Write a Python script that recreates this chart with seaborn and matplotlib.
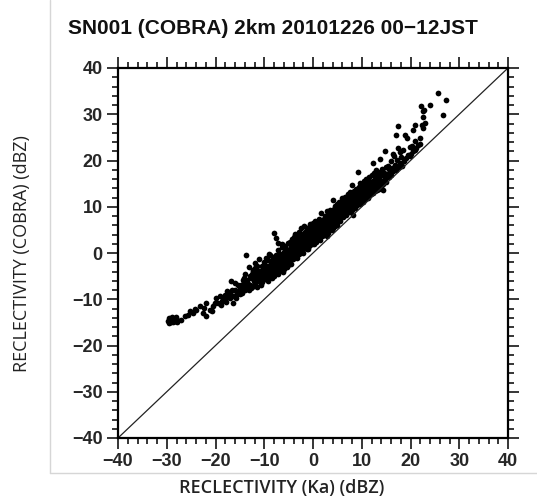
import matplotlib
matplotlib.use("Agg")
import matplotlib.pyplot as plt
from matplotlib.lines import Line2D
from matplotlib.ticker import MultipleLocator
import seaborn as sns
import pandas as pd

# ---- data: (Ka reflectivity, COBRA reflectivity) in dBZ ----
tail_low = [(-29.8,-14.6),(-29.6,-14.0),(-29.5,-15.1),(-29.3,-14.4),(-29.1,-14.9),(-29.0,-13.9),
            (-28.8,-14.5),(-28.7,-15.0),(-28.5,-14.2),(-28.3,-14.7),(-28.2,-13.8),(-28.0,-14.4),
            (-27.8,-15.0),(-27.0,-14.4),(-26.3,-13.7),(-25.6,-13.3),(-25.3,-12.6),(-24.6,-13.0),
            (-23.9,-12.3),(-23.2,-11.5),(-22.6,-13.0),(-21.9,-10.8),(-21.9,-13.7),(-21.2,-12.3),
            (-20.5,-11.5),(-20.2,-10.9),(-20.8,-12.6),(-24.2,-12.2),(-22.3,-11.9)]
seg_m20 = [(-19.5,-10.8),(-19.1,-9.4),(-18.6,-10.4),(-18.1,-9.0),(-17.8,-10.5),(-17.4,-9.6),
           (-17.1,-9.7),(-16.8,-6.0),(-16.7,-7.9),(-16.4,-10.9),(-16.1,-6.5),(-15.8,-9.0),
           (-15.7,-9.8),(-15.4,-8.4),(-15.0,-7.6),(-15.0,-8.9),(-19.8,-9.8),(-18.9,-11.2),
           (-17.6,-8.3),(-16.0,-8.0),(-15.3,-6.9),(-16.5,-9.2),(-18.3,-10.0),(-17.0,-8.6)]
seg_m15 = [(-14.8,-7.0),(-14.6,-8.6),(-14.4,-5.8),(-14.4,-7.8),(-14.2,-6.4),(-14.0,-8.0),
           (-13.9,-4.6),(-13.7,-0.4),(-13.7,-7.1),(-13.5,-5.9),(-13.3,-6.6),(-13.2,-8.1),
           (-13.0,-4.9),(-12.9,-6.9),(-12.7,-5.5),(-12.5,-7.3),(-12.4,-3.6),(-12.2,-6.0),
           (-12.0,-2.2),(-12.0,-5.0),(-11.8,-6.8),(-11.6,-4.2),(-11.5,-7.4),(-11.3,-5.4),
           (-11.1,-1.4),(-11.0,-3.8),(-10.8,-6.1),(-10.7,-4.7),(-10.5,-2.9),(-10.4,-6.3),
           (-10.2,-3.3),(-10.1,-5.2),(-10.0,-4.0),(-14.1,-5.3),(-13.6,-6.3),(-12.8,-7.6),
           (-12.3,-3.9),(-11.9,-6.4),(-11.4,-2.8),(-10.9,-5.6),(-10.6,-7.0),(-10.3,-3.6),
           (-14.9,-8.2),(-13.1,-3.0),(-11.7,-4.5)]
seg_m10 = [(-9.9,-2.6),(-9.8,-5.7),(-9.6,-1.0),(-9.5,-4.4),(-9.4,-3.2),(-9.2,-6.0),(-9.1,-0.2),
           (-9.0,-2.9),(-8.8,-4.8),(-8.7,-1.7),(-8.5,-3.6),(-8.4,-5.4),(-8.2,-0.9),(-8.1,-2.4),
           (-8.0,-4.1),(-7.9,4.3),(-7.8,-1.5),(-7.6,-3.3),(-7.5,3.2),(-7.5,-0.4),(-7.3,-2.6),
           (-7.2,-4.5),(-7.1,0.6),(-7.0,-1.8),(-6.8,-3.7),(-6.7,-0.2),(-6.5,-2.0),(-6.4,1.2),
           (-6.2,-4.0),(-6.1,-0.9),(-6.0,0.3),(-5.9,-2.7),(-5.7,1.5),(-5.6,-1.2),(-5.4,0.0),
           (-5.3,-3.0),(-5.2,2.2),(-5.0,-0.6),(-9.7,-3.9),(-9.3,-1.6),(-8.9,-0.4),(-8.6,-3.0),
           (-8.3,-1.9),(-7.7,-2.2),(-7.4,-0.7),(-6.9,-1.1),(-6.6,-3.0),(-6.3,1.9),(-5.8,-1.4),
           (-5.5,0.9),(-5.1,-1.9),(-8.0,-2.9),(-6.0,-2.1),(-7.2,2.2)]
seg_m5 = [(-4.9,-1.8),(-4.8,2.4),(-4.7,0.2),(-4.6,-2.3),(-4.5,1.6),(-4.4,-0.5),(-4.3,3.0),
          (-4.2,-1.2),(-4.1,0.9),(-4.0,2.2),(-3.9,-0.8),(-3.8,1.3),(-3.7,4.1),(-3.6,-0.1),
          (-3.5,2.7),(-3.4,0.5),(-3.3,-1.0),(-3.2,3.4),(-3.1,1.1),(-3.0,2.0),(-2.9,-0.3),
          (-2.8,4.6),(-2.7,1.8),(-2.6,0.4),(-2.5,3.2),(-2.4,5.5),(-2.3,1.5),(-2.2,2.6),
          (-2.1,0.1),(-2.0,4.0),(-1.9,2.3),(-1.8,5.9),(-1.7,1.0),(-1.6,3.6),(-1.5,2.0),
          (-1.4,4.8),(-1.3,0.8),(-1.2,3.1),(-1.1,5.2),(-1.0,2.4),(-0.9,4.1),(-0.8,1.6),
          (-0.7,6.2),(-0.6,3.3),(-0.5,2.0),(-0.4,5.0),(-0.3,3.8),(-0.2,1.9),(-0.1,4.4),
          (0.0,6.5),(-4.75,0.9),(-4.25,-0.4),(-3.75,2.8),(-3.25,1.7),(-2.75,3.7),(-2.25,0.6),
          (-1.75,4.3),(-1.25,2.9),(-0.75,3.9),(-0.25,2.7),(-3.55,0.0),(-2.15,3.0),(-0.85,5.6),
          (-1.45,1.1)]
seg_0 = [(0.1,3.2),(0.2,5.8),(0.3,1.9),(0.4,4.6),(0.5,7.0),(0.6,3.9),(0.7,2.3),(0.8,5.4),
         (0.9,6.6),(1.0,4.2),(1.1,3.0),(1.2,7.4),(1.3,5.0),(1.4,2.9),(1.5,6.2),(1.6,4.4),
         (1.7,8.6),(1.8,3.6),(1.9,5.7),(2.0,7.1),(2.1,4.0),(2.2,6.0),(2.3,3.8),(2.4,8.0),
         (2.5,5.2),(2.6,6.8),(2.7,4.5),(2.8,7.6),(2.9,5.9),(3.0,4.4),(3.1,8.5),(3.2,6.4),
         (3.3,5.0),(3.4,7.2),(3.5,9.2),(3.6,5.6),(3.7,7.9),(3.8,6.3),(3.9,8.8),(4.0,5.4),
         (4.1,11.5),(4.2,7.0),(4.3,9.5),(4.4,6.1),(4.5,8.3),(4.6,10.2),(4.7,6.9),(4.8,9.0),
         (4.9,7.6),(5.0,10.6),(0.35,6.1),(0.85,3.5),(1.35,6.9),(1.85,4.9),(2.35,7.4),
         (2.85,3.7),(3.35,8.1),(3.85,4.9),(4.35,7.8),(4.85,6.0),(0.15,5.0),(1.05,5.9),
         (1.95,6.5),(2.65,5.6),(3.55,6.8),(4.15,8.9),(4.55,5.8),(1.55,3.9),(2.95,9.1),
         (0.65,4.8)]
seg_5 = [(5.1,7.3),(5.2,9.8),(5.3,8.2),(5.4,11.0),(5.5,7.0),(5.6,9.4),(5.7,10.8),(5.8,8.0),
         (5.9,12.0),(6.0,9.1),(6.1,10.5),(6.2,7.8),(6.3,11.6),(6.4,9.7),(6.5,8.6),(6.6,12.2),
         (6.7,10.1),(6.8,8.3),(6.9,11.3),(7.0,9.5),(7.1,12.8),(7.2,10.4),(7.3,8.9),(7.4,11.8),
         (7.5,10.0),(7.6,13.2),(7.7,9.3),(7.8,11.1),(7.9,14.8),(8.0,10.6),(8.1,12.4),(8.2,8.3),
         (8.3,11.5),(8.4,13.5),(8.5,10.2),(8.6,12.0),(8.7,9.8),(8.8,13.9),(8.9,11.3),(9.0,12.7),
         (9.1,10.4),(9.2,17.6),(9.3,12.1),(9.4,14.3),(9.5,11.0),(9.6,13.0),(9.7,10.6),(9.8,14.7),
         (9.9,12.4),(10.0,11.5),(5.25,10.3),(5.75,9.0),(6.25,10.9),(6.75,9.0),(7.25,11.4),
         (7.75,12.3),(8.25,10.9),(8.75,11.6),(9.25,13.6),(9.75,12.0),(5.45,8.7),(6.55,10.0),
         (7.45,9.6),(8.45,12.8),(9.55,15.2)]
seg_10 = [(10.1,13.4),(10.2,11.0),(10.3,14.6),(10.4,12.2),(10.5,15.5),(10.6,13.0),(10.7,11.6),
          (10.8,14.1),(10.9,16.0),(11.0,12.6),(11.1,15.0),(11.2,13.5),(11.3,11.9),(11.4,14.6),
          (11.5,16.4),(11.6,13.1),(11.7,15.3),(11.8,12.8),(11.9,14.2),(12.0,16.8),(12.1,13.6),
          (12.3,19.5),(12.3,15.1),(12.4,12.9),(12.5,17.2),(12.6,14.4),(12.7,16.0),(12.8,13.4),
          (12.9,18.0),(13.0,15.2),(13.1,13.6),(13.2,17.0),(13.3,14.8),(13.4,16.3),(13.5,13.9),
          (13.7,20.3),(13.7,17.6),(13.8,15.5),(13.9,14.2),(14.0,16.8),(14.2,18.2),(14.3,15.0),
          (14.4,13.7),(14.6,17.3),(14.7,22.1),(14.8,16.0),(14.9,18.6),(15.0,15.3),(10.35,12.8),
          (11.25,14.0),(12.2,14.8),(13.05,16.4),(13.6,15.9),(14.5,16.6)]
seg_15 = [(15.2,17.0),(15.4,18.9),(15.5,16.5),(15.7,17.6),(15.9,19.8),(16.0,16.9),(16.2,18.4),
          (16.4,21.3),(16.6,21.0),(16.8,19.1),(17.0,18.0),(17.1,25.6),(17.3,20.2),(17.4,22.6),
          (17.6,18.6),(17.8,21.9),(17.9,19.5),(18.1,20.8),(18.3,18.9),(18.5,22.3),(18.8,25.6),
          (19.0,20.5),(19.2,24.9),(19.4,21.2),(19.8,23.0),(19.9,20.9),(15.6,18.1),(16.5,17.7),
          (18.6,19.9),(17.4,27.4)]
seg_20 = [(20.2,21.4),(20.5,26.7),(20.5,22.0),(20.9,27.7),(20.9,22.3),(20.4,23.2),(21.2,22.6),
          (21.9,24.9),(22.2,31.7),(22.4,27.6),(22.5,30.6),(22.6,29.5),(22.9,28.1),(22.5,27.0),
          (22.8,31.0),(22.0,23.6),(23.9,32.1),(25.6,34.6),(27.2,33.1),(26.6,29.9),(21.5,23.4),
          (21.0,24.2)]
seg_core = [(-11.8,-3.2),(-11.2,-6.0),(-10.6,-4.4),(-10.1,-2.0),(-9.6,-4.8),(-9.0,-4.0),
            (-8.6,-2.2),(-8.1,-5.0),(-7.7,-3.8),(-7.2,-1.0),(-6.9,-2.6),(-6.4,-0.3),
            (-6.0,-3.4),(-5.6,-0.2),(-5.2,-2.5),(-4.8,-0.9),(-4.4,1.2),(-4.0,-0.2),
            (-3.6,1.6),(-3.2,0.2),(-2.8,2.4),(-2.4,0.9),(-2.0,2.9),(-1.6,1.4),(-1.2,4.2),
            (-0.8,2.6),(-0.4,3.2),(0.0,2.4),(0.4,5.3),(0.8,4.0),(1.2,6.2),(1.6,5.3),
            (2.0,4.8),(2.4,6.6),(2.8,5.0),(3.2,7.5),(3.6,6.3),(4.0,8.0),(4.4,9.0),(4.8,8.1),
            (5.2,8.6),(5.6,10.2),(6.0,8.0),(6.4,10.9),(6.8,11.0),(7.2,9.6),(7.6,11.5),
            (8.0,9.4),(8.4,11.2),(8.8,12.3),(9.2,11.0),(9.6,12.2),(10.0,13.9),(10.4,13.6),
            (10.8,12.5),(11.2,15.9),(11.6,14.2),(12.0,13.5),(12.4,15.6),(12.8,16.9),
            (13.2,14.5),(13.6,17.0),(14.0,15.5),(14.4,17.6),(-13.4,-7.2),(-12.6,-4.5),
            (-9.3,-5.4),(-3.9,3.4),(-1.0,0.9),(1.4,3.6),(3.0,6.9),(6.6,9.4)]

one_to_one = [-40, 40]
ticks_major = [-40, -30, -20, -10, 0, 10, 20, 30, 40]

title = "SN001 (COBRA) 2km 20101226 00\u221212JST"
xlabel = "RECLECTIVITY (Ka) (dBZ)"
ylabel = "RECLECTIVITY (COBRA) (dBZ)"

pairs = (tail_low + seg_m20 + seg_m15 + seg_m10 + seg_m5 + seg_0 + seg_5
         + seg_10 + seg_15 + seg_20 + seg_core)
df = pd.DataFrame(pairs, columns=["ka", "cobra"])

sns.set_theme(style="white")
plt.rcParams["font.family"] = ["Liberation Sans", "DejaVu Sans"]

fig = plt.figure(figsize=(5.37, 4.97), dpi=100)
ax = fig.add_axes([118/537, 1-438/497, 390/537, 370/497])

sns.scatterplot(data=df, x="ka", y="cobra", color="black", s=17,
                linewidth=0, ax=ax, legend=False)
sns.lineplot(x=one_to_one, y=one_to_one, color="#222222", linewidth=0.9, ax=ax)

ax.set_xlim(one_to_one)
ax.set_ylim(one_to_one)
ax.set_xticks(ticks_major)
ax.set_yticks(ticks_major)
ax.xaxis.set_minor_locator(MultipleLocator(2))
ax.yaxis.set_minor_locator(MultipleLocator(2))
ax.tick_params(which="both", direction="out", top=True, right=True,
               bottom=True, left=True, color="black", width=1.1)
ax.tick_params(which="major", length=8, labelsize=13, pad=3)
ax.tick_params(which="minor", length=4)
for lab in ax.get_xticklabels() + ax.get_yticklabels():
    lab.set_fontweight("bold")
for sp in ax.spines.values():
    sp.set_color("black")
    sp.set_linewidth(1.6)

ax.set_xlabel(xlabel, family=["Open Sans", "DejaVu Sans"], fontsize=13,
              fontweight="semibold", color="#222222")
ax.set_ylabel(ylabel, family=["Open Sans", "DejaVu Sans"], fontsize=13,
              color="#222222")
ax.xaxis.set_label_coords((282-118)/390, (438-488)/370)
ax.yaxis.set_label_coords((22-118)/390, (438-253.5)/370)
ax.xaxis.label.set_va("center")
ax.yaxis.label.set_va("center")

ax.text((68-118)/390, (438-29)/370, title, transform=ax.transAxes,
        ha="left", va="center", fontsize=15, fontweight="bold", color="#111111")

# light grey frame of the original page
fig.add_artist(Line2D([50/537, 50/537], [1, 1-473/497], color="#d6d6d6", lw=1))
fig.add_artist(Line2D([50/537, 1], [1-473/497, 1-473/497], color="#d6d6d6", lw=1))

fig.savefig("out.png", dpi=100, facecolor="white")
